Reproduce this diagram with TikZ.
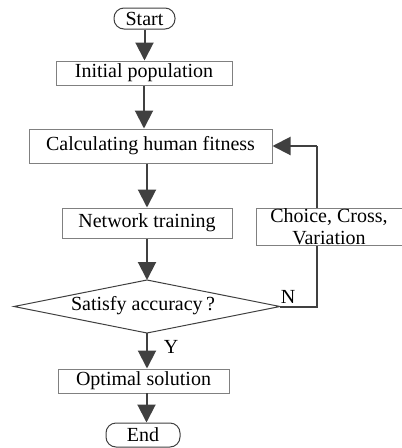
\documentclass[tikz,border=0pt]{standalone}
\usepackage{fontspec}
\setmainfont{Liberation Serif}
\usetikzlibrary{arrows.meta,calc}
\definecolor{arr}{HTML}{404040}
\definecolor{bord}{HTML}{808080}
\begin{document}
\begin{tikzpicture}[x=1pt,y=1pt,
  every node/.style={font=\fontsize{20}{22}\selectfont, text=black},
  procbox/.style={draw=bord, line width=1pt, fill=white, rectangle, inner sep=0pt, align=center},
  termbox/.style={draw=arr, line width=1pt, fill=white, rectangle, rounded corners=10pt, inner sep=0pt},
  flow/.style={draw=arr, line width=2pt, -{Triangle[length=18pt,width=18pt]}},
  plain/.style={draw=arr, line width=2pt}]
\useasboundingbox (0,0) rectangle (402,-448);

\node[termbox, minimum width=61, minimum height=21] (start) at (144.5,-18.5) {Start};
\node[procbox, minimum width=176, minimum height=24] (init) at (144,-73) {Initial population};
\node[procbox, minimum width=243, minimum height=34] (calc) at (150.5,-146) {Calculating human fitness};
\node[procbox, minimum width=170, minimum height=30] (net) at (147,-223) {Network training};

% decision diamond
\coordinate (dtop) at (147,-280);
\coordinate (dbot) at (147,-333);
\coordinate (dleft) at (14,-306.5);
\coordinate (dright) at (280,-306.5);
\draw[draw=arr, line width=1pt] (dtop) -- (dright) -- (dbot) -- (dleft) -- cycle;
\node (dec) at (143,-306) {Satisfy accuracy\,?};

\node[procbox, minimum width=171, minimum height=24] (opt) at (143.5,-381) {Optimal solution};
\node[termbox, minimum width=74, minimum height=24] (end) at (143,-435) {End};

\coordinate (c1) at (317,-306.5);
\coordinate (c2) at (317,-146);
\coordinate (o1) at (146.5,-393);

% main flow
\draw[flow] (start.south) -- (start.south |- init.north);
\draw[flow] (init.south) -- (init.south |- calc.north);
\draw[flow] (calc.south -| net.north) -- (net.north);
\draw[flow] (net.south) -- (dtop);
\draw[flow] (dbot) -- (dbot |- opt.north);
\draw[flow] (o1) -- (o1 |- end.north);

% loop back
\draw[plain] (dright) -- (c1) -- (c2);
\draw[flow] (c2) -- (calc.east);
\node[procbox, minimum width=146, minimum height=37] (choice) at (329,-226.5) {Choice, Cross,\\Variation};

\node (ylab) at (171,-347) {Y};
\node (nlab) at (288,-297) {N};
\end{tikzpicture}
\end{document}
